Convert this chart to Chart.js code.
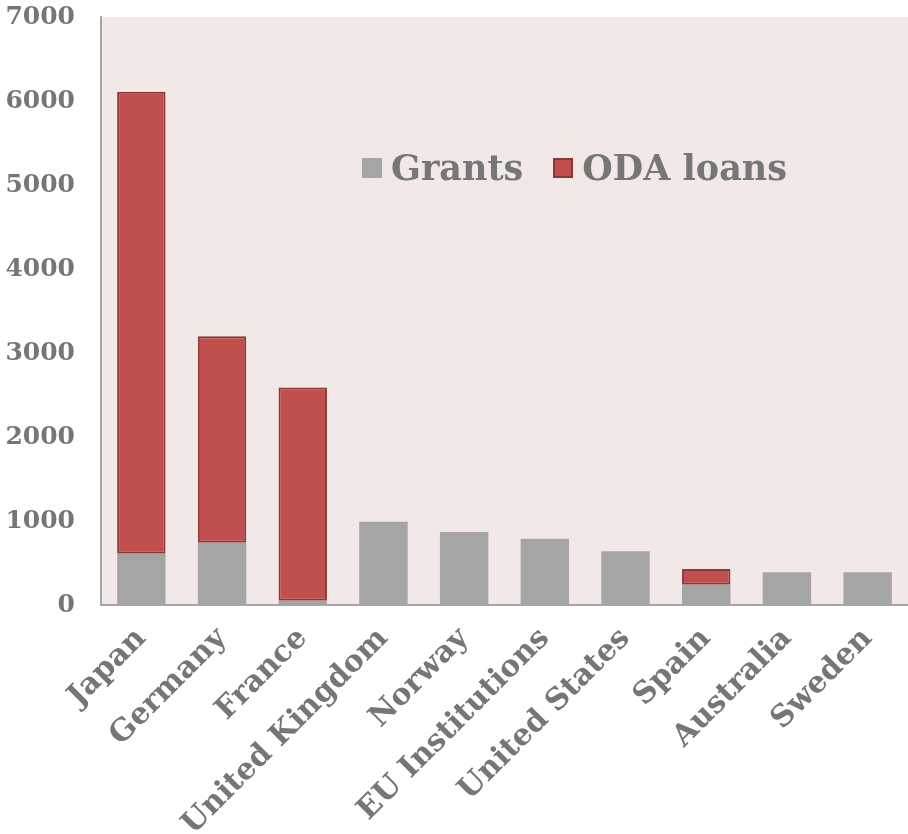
<!DOCTYPE html>
<html>
<head>
<meta charset="utf-8">
<script src="https://cdn.jsdelivr.net/npm/chart.js@4.4.1/dist/chart.umd.min.js"></script>
<style>
  body { margin: 0; background: #fff; }
  #wrap { position: relative; width: 908px; height: 834px; }
  #legend {
    position: absolute; left: 362px; top: 147px;
    font-family: "DejaVu Serif", serif; font-weight: bold; font-size: 35px; color: #767676;
    white-space: nowrap;
  }
  #legend span.box { display: inline-block; width: 20px; height: 20px; margin-right: 9px; vertical-align: 2px; box-sizing: border-box; }
  #legend span.item { margin-right: 30px; }
</style>
</head>
<body>
<div id="wrap">
  <canvas id="myChart" width="908" height="834"></canvas>
  <div id="legend">
    <span class="item"><span class="box" style="background:#A5A5A5"></span>Grants</span><span class="item"><span class="box" style="background:#C0504D;border:2px solid #8C3836"></span>ODA loans</span>
  </div>
</div>
<script>
const countries = ["Japan", "Germany", "France", "United Kingdom", "Norway", "EU Institutions", "United States", "Spain", "Australia", "Sweden"];
const grants = [610, 740, 50, 990, 870, 790, 640, 240, 390, 390];
const odaLoans = [5500, 2460, 2540, 0, 0, 0, 0, 190, 0, 0];
const yTicks = [0, 1000, 2000, 3000, 4000, 5000, 6000, 7000];

const plotBackground = {
  id: 'plotBackground',
  beforeDraw(chart) {
    const a = chart.chartArea;
    const ctx = chart.ctx;
    ctx.save();
    ctx.fillStyle = '#F2E8E7';
    ctx.fillRect(a.left, a.top, a.right - a.left, a.bottom - a.top);
    ctx.restore();
  }
};

const ctx = document.getElementById('myChart').getContext('2d');
const myChart = new Chart(ctx, {
  type: 'bar',
  data: {
    labels: countries,
    datasets: [
      {
        label: 'Grants',
        data: grants,
        backgroundColor: '#A5A5A5',
        borderWidth: 0,
        barPercentage: 0.6,
        categoryPercentage: 1.0
      },
      {
        label: 'ODA loans',
        data: odaLoans,
        backgroundColor: '#C0504D',
        borderColor: '#8C3836',
        borderWidth: 2,
        borderSkipped: false,
        barPercentage: 0.6,
        categoryPercentage: 1.0
      }
    ]
  },
  options: {
    responsive: false,
    animation: false,
    layout: { padding: { top: 17, right: 0, left: 0, bottom: 0 } },
    plugins: {
      legend: { display: false },
      tooltip: { enabled: false }
    },
    scales: {
      x: {
        stacked: true,
        grid: { display: false, drawTicks: false },
        border: { color: '#A6A6A6', width: 2 },
        ticks: {
          color: '#767676',
          font: { family: "'DejaVu Serif', serif", weight: 'bold', size: 30 },
          minRotation: 45,
          maxRotation: 45,
          padding: 16
        },
        afterFit(scale) {
          scale.height = 229;
          scale.paddingLeft = 0;
          scale.paddingRight = 0;
        }
      },
      y: {
        stacked: true,
        min: 0,
        max: 7000,
        afterBuildTicks(axis) { axis.ticks = yTicks.map(v => ({ value: v })); },
        grid: { display: false, drawTicks: false },
        border: { color: '#A6A6A6', width: 2 },
        ticks: {
          color: '#767676',
          font: { family: "'DejaVu Serif', serif", weight: 'bold', size: 25 },
          padding: 26,
          callback: v => String(v)
        },
        afterFit(scale) {
          scale.width = 101;
          scale.paddingTop = 0;
          scale.paddingBottom = 0;
        }
      }
    }
  },
  plugins: [plotBackground]
});
</script>
</body>
</html>
